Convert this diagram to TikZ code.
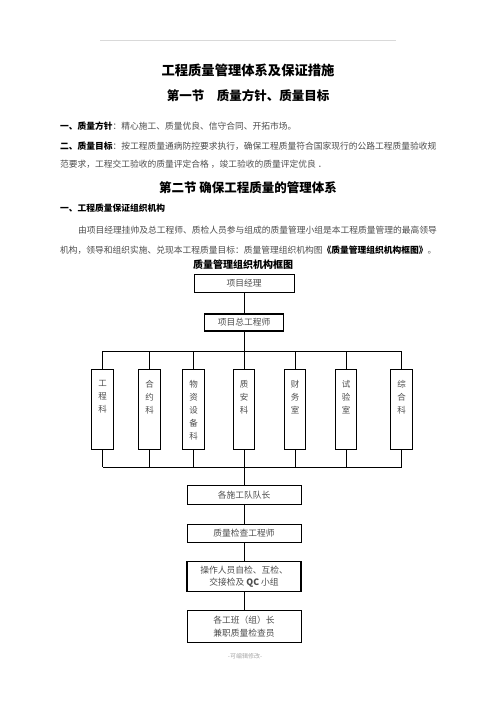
\documentclass[tikz,border=0pt]{standalone}
\usepackage{fontspec}
\setmainfont{Noto Sans CJK SC}
\usetikzlibrary{positioning}
\newcommand\cnsize[2]{\fontsize{#1pt}{#2pt}\selectfont}
\newcommand\hb[1]{\textcolor{black}{\bfseries #1}}

\begin{document}
\begin{tikzpicture}[x=1pt, y=-1pt,
  txt/.style={anchor=west, inner sep=0pt, text=black!70, font=\cnsize{8.75}{10}},
  hd/.style={inner sep=0pt, text=black, font=\bfseries\cnsize{12.5}{14}},
  box/.style={draw=black, line width=0.8pt, inner sep=0pt, minimum width=114pt, minimum height=18.5pt, align=center, text=black!70, font=\cnsize{8.75}{12.5}},
  thk/.style={line width=1.4pt},
  col/.style={draw=black, anchor=north, inner sep=0pt, minimum width=21.5pt, minimum height=80pt},
  coltxt/.style={anchor=north, inner sep=0pt, align=center, text=black!70, font=\cnsize{8.5}{13}},
  ln/.style={draw=black, line width=0.8pt}]
\useasboundingbox (0,0) rectangle (496,702);
\draw[black!15, line width=0.6pt] (100,40) -- (396,40);
% headings and text
\node[hd, font=\bfseries\cnsize{13.3}{15}] (title) at (248,70) {工程质量管理体系及保证措施};
\node[hd] (sec1) at (248,96) {第一节　质量方针、质量目标};
\node[txt] (p1) at (60,126) {\hb{一、质量方针}：精心施工、质量优良、信守合同、开拓市场。};
\node[txt] (p2) at (60,146) {\hb{二、质量目标}：按工程质量通病防控要求执行，确保工程质量符合国家现行的公路工程质量验收规};
\node[txt] (p3) at (60,164) {范要求，工程交工验收的质量评定合格 ，竣工验收的质量评定优良 ．};
\node[hd] (sec2) at (248,188) {第二节 确保工程质量的管理体系};
\node[txt] (h1) at (60,208) {\hb{一、工程质量保证组织机构}};
\node[txt] (p4) at (78,230) {由项目经理挂帅及总工程师、质检人员参与组成的质量管理小组是本工程质量管理的最高领导};
\node[txt] (p5) at (60,250) {机构，领导和组织实施、兑现本工程质量目标：质量管理组织机构图\hb{《质量管理组织机构框图》}。};
\node[hd, font=\bfseries\cnsize{10}{12}] (ctitle) at (243,265) {质量管理组织机构框图};
% chart
\node[box, minimum width=100pt, minimum height=18pt] (pm) at (244,283) {项目经理};
\node[box, thk, minimum width=79pt, minimum height=17pt] (cte) at (244,322.5) {项目总工程师};
\foreach \n/\x/\w/\t in {gc/102.5/0.8/{工\\程\\科}, hy/149.5/1.4/{合\\约\\科}, wz/193.5/1.4/{物\\资\\设\\备\\科}, za/244/0.8/{质\\安\\科}, cw/295/1.4/{财\\务\\室}, sy/346/0.8/{试\\验\\室}, zh/401.5/0.8/{综\\合\\科}} {
  \node[col, line width=\w pt] (\n) at (\x,369) {};
  \node[coltxt] (\n t) at (\x,380) {\t};
}
\coordinate (busT) at (244,351);
\coordinate (busB) at (244,467);
\node[box] (dz) at (244,495) {各施工队队长};
\node[box, below=19pt of dz] (zj) {质量检查工程师};
\node[box, thk, minimum height=30pt, below=18pt of zj] (cz) {操作人员自检、互检、\\交接检及 \textbf{QC} 小组};
\node[box, minimum height=32pt, below=18pt of cz] (bz) {各工班（组）长\\兼职质量检查员};
\draw[ln] (pm) -- (cte);
\draw[ln] (cte) -- (busT);
\draw[ln] (gc.north |- busT) -- (zh.north |- busT);
\draw[ln] (gc.south |- busB) -- (zh.south |- busB);
\foreach \n in {gc,hy,wz,za,cw,sy,zh} \draw[ln] (\n.north) -- (\n.north |- busT) (\n.south) -- (\n.south |- busB);
\draw[ln] (busB) -- (dz);
\foreach \u/\v in {dz/zj, zj/cz, cz/bz} \draw[ln] (\u) -- (\v);
\node[inner sep=0pt, text=black!35, font=\cnsize{6}{7}] (foot) at (245,656) {-可编辑修改-};
\end{tikzpicture}
\end{document}
